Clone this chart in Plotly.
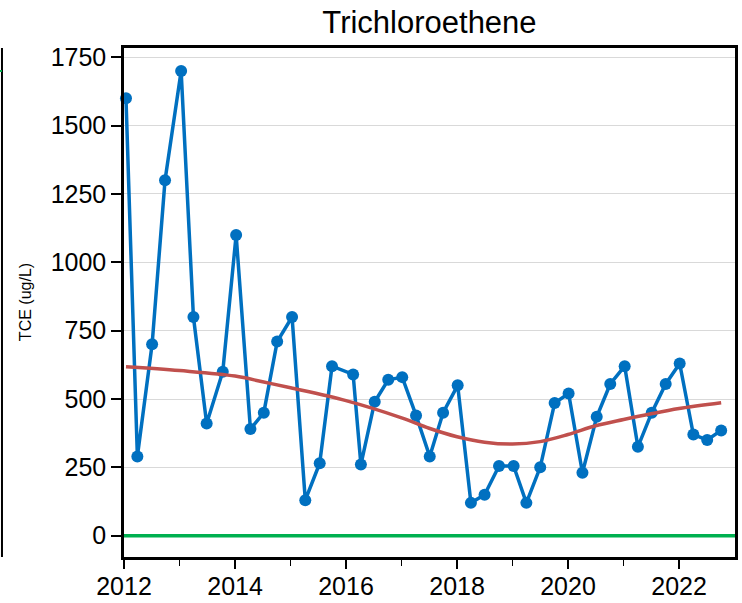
import plotly.graph_objects as go

# ---- data ----
sample_dates = [
    "2012-01-14", "2012-03-29", "2012-07-04", "2012-09-27",
    "2013-01-11", "2013-04-02", "2013-06-28", "2013-10-12",
    "2014-01-08", "2014-04-12", "2014-07-09", "2014-10-05",
    "2015-01-11", "2015-04-08", "2015-07-12", "2015-10-01",
    "2016-02-17", "2016-04-08", "2016-07-08", "2016-10-05",
    "2017-01-05", "2017-04-06", "2017-07-05", "2017-10-01",
    "2018-01-05", "2018-04-02", "2018-07-01", "2018-10-04",
    "2019-01-08", "2019-04-02", "2019-07-02", "2019-10-05",
    "2020-01-05", "2020-04-05", "2020-07-08", "2020-10-05",
    "2021-01-08", "2021-04-05", "2021-07-05", "2021-10-05",
    "2022-01-05", "2022-04-05", "2022-07-05", "2022-10-05",
]
tce_values = [
    1600, 290, 700, 1300,
    1700, 800, 410, 600,
    1100, 390, 450, 710,
    800, 130, 265, 620,
    590, 260, 490, 570,
    580, 440, 290, 450,
    550, 120, 150, 255,
    255, 120, 250, 485,
    520, 230, 435, 555,
    620, 325, 450, 555,
    630, 370, 350, 385,
]

trend_dates = [
    "2012-01-14", "2013-01-01", "2014-01-01", "2014-07-01", "2015-01-01",
    "2016-01-01", "2017-01-01", "2017-07-01", "2018-01-01", "2018-07-01",
    "2019-01-01", "2019-07-01", "2020-01-01", "2020-07-01", "2021-01-01",
    "2021-07-01", "2022-01-01", "2022-10-05",
]
trend_values = [
    618, 604, 584, 563, 541,
    494, 431, 393, 362, 342,
    335, 344, 370, 402, 425,
    446, 465, 486,
]

mcl_value = 0

title_text = "Trichloroethene"
y_label = "TCE (ug/L)"
y_ticks = [0, 250, 500, 750, 1000, 1250, 1500, 1750]
x_ticks = ["2012-01-01", "2014-01-01", "2016-01-01", "2018-01-01", "2020-01-01", "2022-01-01"]
x_tick_labels = ["2012", "2014", "2016", "2018", "2020", "2022"]
x_minor_ticks = ["2013-01-01", "2015-01-01", "2017-01-01", "2019-01-01", "2021-01-01"]

BLUE = "#0070C0"
RED = "#C0504D"
GREEN = "#00B050"
FONT = "Liberation Sans, Arial, sans-serif"

fig = go.Figure()

fig.add_trace(go.Scatter(
    x=sample_dates, y=tce_values, mode="lines+markers",
    line=dict(color=BLUE, width=3.5),
    marker=dict(color=BLUE, size=12),
    showlegend=False, cliponaxis=False,
))

fig.add_trace(go.Scatter(
    x=trend_dates, y=trend_values, mode="lines",
    line=dict(color=RED, width=3.5, shape="spline", smoothing=1.0),
    showlegend=False,
))

# MCL line across the full plot width
fig.add_shape(type="line", xref="x domain", yref="y",
              x0=0, x1=1, y0=mcl_value, y1=mcl_value,
              line=dict(color=GREEN, width=3.5), layer="above")

# remnant of adjacent panel at the far left
fig.add_shape(type="line", xref="paper", yref="paper",
              x0=-0.1997, x1=-0.1997, y0=0, y1=1,
              line=dict(color="black", width=2))
fig.add_shape(type="line", xref="paper", yref="paper",
              x0=-0.203, x1=-0.1997, y0=0.955, y1=0.955,
              line=dict(color=GREEN, width=2))

fig.add_annotation(text=y_label, xref="paper", yref="paper",
                   x=-0.161, y=0.5, textangle=-90, showarrow=False,
                   xanchor="center", yanchor="middle",
                   font=dict(family=FONT, size=16, color="black"))

fig.update_layout(
    width=742, height=603,
    margin=dict(l=124, r=7, t=48, b=46, autoexpand=False),
    paper_bgcolor="white", plot_bgcolor="white",
    title=dict(text=title_text, x=0.5788, xanchor="center", y=0.964, yanchor="middle",
               font=dict(family=FONT, size=31, color="black")),
    font=dict(family=FONT, size=25, color="black"),
)

fig.update_xaxes(
    type="date",
    range=["2012-01-01", "2023-01-04"],
    tickvals=x_ticks, ticktext=x_tick_labels,
    ticks="outside", ticklen=9, tickwidth=1.5, tickcolor="black",
    minor=dict(tickvals=x_minor_ticks,
               ticks="outside", ticklen=6, tickwidth=1.2, tickcolor="black", showgrid=False),
    showline=True, linecolor="black", linewidth=2.5, mirror=True,
    showgrid=False, zeroline=False,
    ticklabelstandoff=-4,
    tickfont=dict(family=FONT, size=25, color="black"),
)

fig.update_yaxes(
    range=[-78, 1784],
    tickvals=y_ticks,
    ticks="outside", ticklen=10, tickwidth=1.5, tickcolor="black",
    showline=True, linecolor="black", linewidth=2.5, mirror=True,
    showgrid=True, gridcolor="#d9d9d9", gridwidth=1,
    zeroline=False,
    tickfont=dict(family=FONT, size=25, color="black"),
)

fig.write_html("out.html", config={"displayModeBar": False},
               post_script="document.body.style.margin='0';")
